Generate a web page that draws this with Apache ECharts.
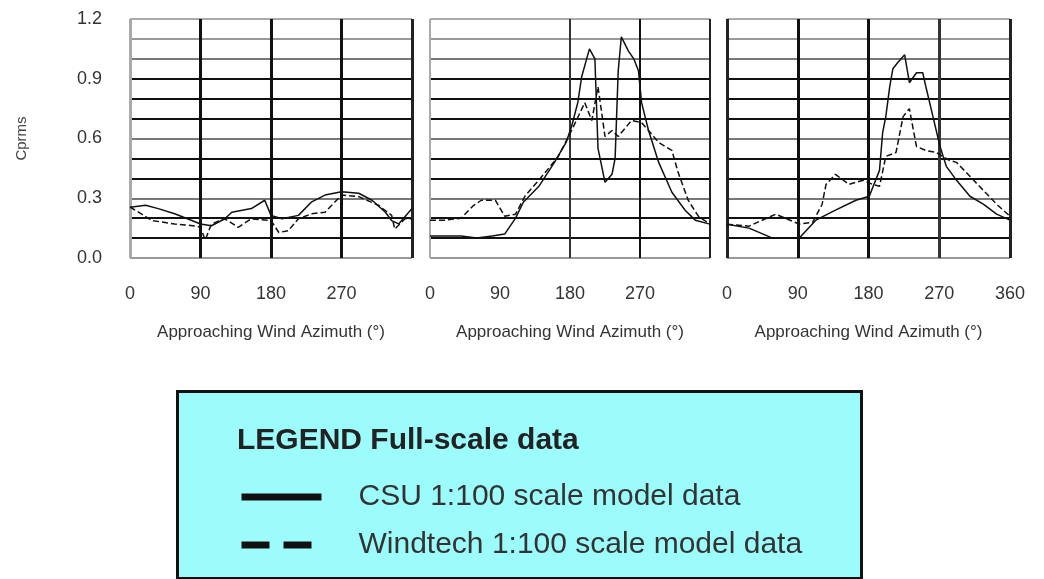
<!DOCTYPE html>
<html>
<head>
<meta charset="utf-8">
<title>Cprms vs wind azimuth</title>
<script src="https://cdn.jsdelivr.net/npm/echarts@6/dist/echarts.min.js"></script>
<style>
    html, body { margin: 0; padding: 0; background: #fff; }
    #container { width: 1044px; height: 579px; }
</style>
</head>
<body>
<div id="container"></div>
<script>
// azimuth tick labels and y labels
var xTicks = [0, 90, 180, 270, 360];
var yLabels = ['0.0', '0.3', '0.6', '0.9', '1.2'];
var seriesNames = ['CSU 1:100 scale model data', 'Windtech 1:100 scale model data'];

// panel 1  [azimuth, Cprms]
var p1Csu = [[0,0.255],[10,0.26],[20,0.265],[36,0.248],[57,0.222],[79,0.188],[90,0.171],[104,0.162],[121,0.197],[130,0.23],[155,0.248],[172,0.29],[180,0.214],[194,0.197],[215,0.214],[232,0.282],[249,0.316],[270,0.333],[292,0.325],[309,0.29],[326,0.23],[334,0.188],[343,0.171],[360,0.248]];
var p1Wind = [[0,0.256],[15,0.22],[28,0.188],[57,0.171],[85,0.16],[90,0.154],[96,0.09],[104,0.171],[121,0.197],[138,0.154],[155,0.197],[180,0.188],[190,0.128],[202,0.137],[215,0.197],[232,0.222],[249,0.23],[270,0.316],[292,0.308],[317,0.265],[334,0.214],[338,0.145],[351,0.197],[360,0.197]];

// panel 2
var p2Csu = [[0,0.11],[20,0.11],[40,0.11],[60,0.1],[80,0.11],[96,0.12],[110,0.2],[120,0.28],[140,0.36],[160,0.48],[175,0.58],[182,0.66],[190,0.78],[195,0.91],[205,1.05],[212,1.0],[216,0.55],[225,0.38],[234,0.42],[238,0.5],[242,0.94],[246,1.11],[255,1.04],[262,1.0],[268,0.94],[272,0.78],[281,0.64],[294,0.48],[311,0.33],[328,0.24],[341,0.19],[360,0.17]];
var p2Wind = [[0,0.19],[20,0.19],[40,0.2],[55,0.26],[66,0.29],[84,0.29],[96,0.21],[110,0.22],[122,0.31],[144,0.41],[165,0.51],[182,0.64],[199,0.78],[208,0.69],[216,0.86],[225,0.61],[234,0.64],[242,0.61],[259,0.69],[272,0.68],[281,0.64],[294,0.58],[311,0.54],[319,0.43],[332,0.29],[345,0.21],[360,0.17]];

// panel 3
var p3Csu = [[0,0.17],[28,0.15],[58,0.1],[92,0.1],[113,0.19],[138,0.24],[164,0.29],[181,0.31],[194,0.44],[198,0.63],[202,0.71],[207,0.86],[211,0.95],[217,0.98],[226,1.02],[232,0.88],[241,0.93],[249,0.93],[253,0.86],[262,0.71],[271,0.56],[279,0.46],[292,0.39],[309,0.31],[326,0.27],[343,0.22],[360,0.19]];
var p3Wind = [[0,0.17],[28,0.16],[62,0.22],[92,0.17],[109,0.18],[121,0.27],[126,0.37],[138,0.42],[155,0.37],[173,0.39],[185,0.37],[194,0.36],[202,0.51],[215,0.53],[224,0.71],[232,0.75],[241,0.56],[253,0.54],[266,0.53],[283,0.49],[292,0.48],[309,0.41],[326,0.34],[343,0.27],[360,0.21]];

var font = 'Liberation Sans, Arial, sans-serif';
var hLineColors = ['#999','#111','#111','#777','#111','#111','#777','#111','#111','#111','#777','#999','#aaa'];

function makeX(idx, showLast, vColors, vWidth) {
    return {
        type: 'value', gridIndex: idx, min: 0, max: 360, interval: 90,
        axisLine: {show: false}, axisTick: {show: false},
        axisLabel: {
            margin: 27, color: '#333', fontSize: 18, fontFamily: font,
            formatter: function (v) {
                if (v == 360 && !showLast) return '';
                return xTicks.indexOf(v) >= 0 ? String(v) : '';
            }
        },
        splitLine: {show: true, lineStyle: {color: vColors, width: vWidth}},
        name: 'Approaching Wind Azimuth (\u00b0)',
        nameLocation: 'middle', nameGap: 66,
        nameTextStyle: {color: '#333', fontSize: 17, fontFamily: font}
    };
}

function makeY(idx) {
    var y = {
        type: 'value', gridIndex: idx, min: 0, max: 1.2, interval: 0.1,
        axisLine: {show: false}, axisTick: {show: false},
        axisLabel: {show: idx == 0, margin: 28, color: '#333', fontSize: 18, fontFamily: font,
            formatter: function (v) {
                var k = Math.round(v * 10);
                return k % 3 == 0 ? yLabels[k / 3] : '';
            }
        },
        splitLine: {show: true, lineStyle: {color: hLineColors, width: 2}}
    };
    if (idx == 0) {
        y.name = 'Cprms';
        y.nameLocation = 'middle';
        y.nameGap = 101;
        y.nameRotate = 90;
        y.nameTextStyle = {color: '#444', fontSize: 15, fontFamily: font};
    }
    return y;
}

function makeLine(name, idx, data, dashed) {
    return {
        name: name, type: 'line', xAxisIndex: idx, yAxisIndex: idx,
        data: data, symbol: 'none', silent: true,
        lineStyle: {color: '#111', width: 1.5, type: dashed ? 'dashed' : 'solid'},
        itemStyle: {color: '#111'}
    };
}

var chart = echarts.init(document.getElementById('container'));
var option = {
    animation: false,
    backgroundColor: '#fff',
    title: {
        text: 'LEGEND Full-scale data',
        left: 237, top: 426, padding: 0,
        textStyle: {color: '#222', fontSize: 30, fontWeight: 'bold', fontFamily: font}
    },
    graphic: [{
        type: 'rect', left: 176, top: 390, z: -1,
        shape: {width: 684, height: 187},
        style: {fill: '#9cfcfc', stroke: '#111', lineWidth: 3}
    }],
    legend: {
        data: seriesNames,
        orient: 'vertical', left: 238, top: 482, padding: 0,
        itemWidth: 80, itemHeight: 16, itemGap: 18,
        lineStyle: {width: 7, color: '#111'},
        itemStyle: {opacity: 0},
        textStyle: {color: '#333', fontSize: 30, fontFamily: font, padding: [0, 0, 0, 32]},
        selectedMode: false
    },
    grid: [
        {left: 130, top: 19, width: 282, height: 239, show: true, borderColor: '#aaa', borderWidth: 1},
        {left: 430, top: 19, width: 280, height: 239, show: true, borderColor: '#aaa', borderWidth: 1},
        {left: 727, top: 19, width: 283, height: 239, show: true, borderColor: '#aaa', borderWidth: 1}
    ],
    xAxis: [
        makeX(0, false, ['#aaa', '#111', '#111', '#111', '#222'], 3),
        makeX(1, false, ['#aaa', 'rgba(0,0,0,0)', '#333', '#111', '#222'], 2),
        makeX(2, true, ['#222', '#111', '#111', '#333', '#222'], 3)
    ],
    yAxis: [makeY(0), makeY(1), makeY(2)],
    series: [
        makeLine(seriesNames[0], 0, p1Csu, false),
        makeLine(seriesNames[1], 0, p1Wind, true),
        makeLine(seriesNames[0], 1, p2Csu, false),
        makeLine(seriesNames[1], 1, p2Wind, true),
        makeLine(seriesNames[0], 2, p3Csu, false),
        makeLine(seriesNames[1], 2, p3Wind, true)
    ]
};
chart.setOption(option);
</script>
</body>
</html>
